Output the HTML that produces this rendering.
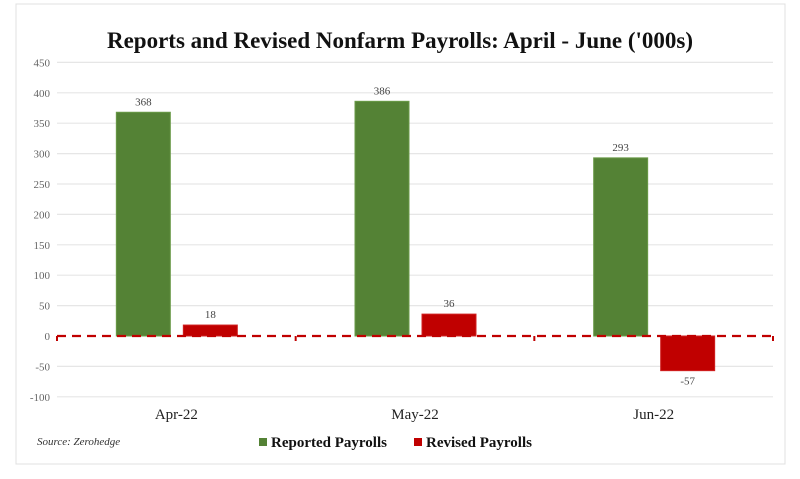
<!DOCTYPE html>
<html><head><meta charset="utf-8"><style>
body{margin:0;background:#fff;width:800px;height:474px;overflow:hidden;font-family:"Liberation Serif",serif}
svg text{font-family:"Liberation Serif",serif}
</style></head><body>
<svg id="chart" width="800" height="474" xmlns="http://www.w3.org/2000/svg">
<rect x="16" y="4" width="769" height="460" fill="#fff" stroke="#e0e0e0"/>
<text x="400" y="48" text-anchor="middle" font-size="23" font-weight="bold" fill="#111">Reports and Revised Nonfarm Payrolls: April - June ('000s)</text>
<g id="grid"></g><g id="bars"></g><g id="labels"></g>
<text x="37" y="445" font-size="11" font-style="italic" fill="#333">Source: Zerohedge</text>
<rect x="259" y="438" width="8" height="8" fill="#548235"/>
<text x="271" y="447" font-size="15" font-weight="bold" fill="#111">Reported Payrolls</text>
<rect x="414" y="438" width="8" height="8" fill="#c00000"/>
<text x="426" y="447" font-size="15" font-weight="bold" fill="#111">Revised Payrolls</text>
</svg>
<script>
const categories=["Apr-22","May-22","Jun-22"];
const reported=[368,386,293];
const revised=[18,36,-57];
const ticks=[450,400,350,300,250,200,150,100,50,0,-50,-100];
const NS="http://www.w3.org/2000/svg";
const x0=57,x1=773,yZero=336,k=0.608;
const y=v=>yZero-v*k;
const bw=(x1-x0)/categories.length;
function mk(tag,attrs,parent,text){const e=document.createElementNS(NS,tag);for(const a in attrs)e.setAttribute(a,attrs[a]);if(text!==undefined)e.textContent=text;document.getElementById(parent).appendChild(e);return e;}
ticks.forEach(t=>{
  if(t!==0){const l=mk('line',{x1:x0,x2:x1,y1:y(t),y2:y(t),stroke:'#e6e6e6','stroke-width':1.2},'grid');
  
  }
  const tx=mk('text',{x:50,y:y(t)+4,'text-anchor':'end','font-size':11,fill:'#666'},'grid',String(t));
  
  
});
categories.forEach((c,i)=>{
  const cx=x0+bw*(i+0.5);
  const gw=54;
  const gx=cx-gw-6, rx=cx+7;
  const g=mk('rect',{x:gx,y:Math.min(y(reported[i]),yZero),width:gw,height:Math.abs(reported[i]*k),fill:'#548235',stroke:'#6a9a48'},'bars');
  
  
  const r=mk('rect',{x:rx,y:Math.min(y(revised[i]),yZero),width:gw,height:Math.abs(revised[i]*k),fill:'#c00000',stroke:'#d02020'},'bars');
  
  
  const l1=mk('text',{x:gx+gw/2,y:y(reported[i])-7,'text-anchor':'middle','font-size':11,fill:'#444'},'labels',String(reported[i]));
  
  
  const ly=revised[i]>=0?y(revised[i])-7:y(revised[i])+14;
  const l2=mk('text',{x:rx+gw/2,y:ly,'text-anchor':'middle','font-size':11,fill:'#444'},'labels',String(revised[i]));
  
  
  const cl=mk('text',{x:cx,y:419,'text-anchor':'middle','font-size':15,fill:'#222'},'labels',c);
  
  
});
const z=mk('line',{x1:x0,x2:x1,y1:yZero,y2:yZero,stroke:'#c00000','stroke-width':2.2,'stroke-dasharray':'9,6'},'labels');


for(let i=0;i<=categories.length;i++){const xx=x0+bw*i;
  const t=mk('line',{x1:xx,x2:xx,y1:yZero,y2:yZero+5,stroke:'#c00000','stroke-width':2},'labels');
  
  }
</script>
</body></html>
